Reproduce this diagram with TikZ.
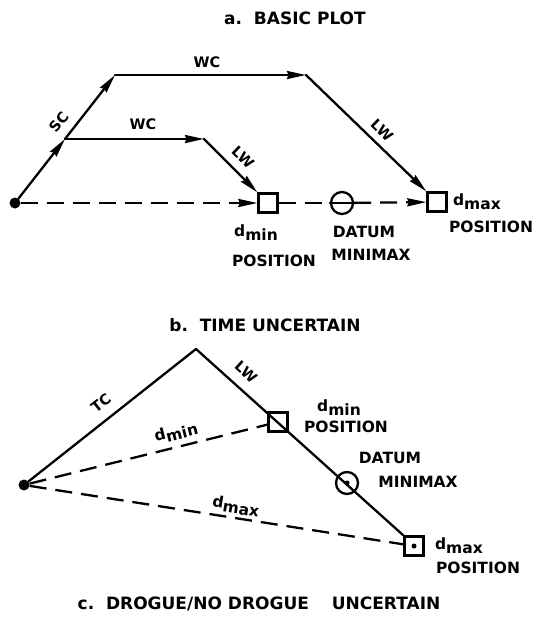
\documentclass[tikz,border=0pt]{standalone}
\usepackage{fontspec}
\setmainfont{DejaVu Sans}
\usetikzlibrary{arrows.meta}
\newcommand{\dsub}[1]{d\raisebox{-0.45ex}{#1}}
\begin{document}
\begin{tikzpicture}[x=1pt,y=-1pt,
  route/.style={line width=2.3pt,line cap=round,line join=round},
  tip/.style={-{Stealth[length=19pt,width=8pt,inset=1.5pt]}},
  dashline/.style={line width=2.3pt,dash pattern=on 17pt off 9pt},
  posbox/.style={draw,line width=2.3pt,minimum size=19pt,inner sep=0pt},
  datum/.style={draw,circle,line width=2.3pt,minimum size=22pt,inner sep=0pt},
  startdot/.style={fill,circle,minimum size=11pt,inner sep=0pt},
  centerdot/.style={fill,circle,minimum size=5pt,inner sep=0pt},
  title/.style={font=\bfseries\fontsize{17}{19}\selectfont},
  lab/.style={font=\bfseries\fontsize{15.5}{17}\selectfont},
  leg/.style={font=\bfseries\fontsize{14.5}{16}\selectfont}]
\useasboundingbox (0,0) rectangle (542,627);
\node[startdot] (a0) at (15,203) {};
\coordinate (abr) at (65,139);
\coordinate (atop) at (115,75);
\coordinate (aup) at (306,75);
\coordinate (alow) at (204,139);
\node[posbox,fill=white] (amin) at (268,203) {};
\node[datum] (adat) at (342,203) {};
\node[posbox,fill=white] (amax) at (437,202) {};
\draw[route,tip] (a0) -- (abr);
\draw[route,tip] (abr) -- (atop);
\draw[route,tip] (atop) -- (aup);
\draw[route,tip] (aup) -- (amax.north west);
\draw[route,tip] (abr) -- (alow);
\draw[route,tip] (alow) -- (amin.north west);
\draw[dashline,tip] (a0) -- (amin);
\draw[dashline] (amin) -- (adat);
\draw[dashline,tip] (adat) -- (amax);
\draw[route] (adat.west) -- (adat.east);
\node[leg,rotate=52] (lsc) at (59,122) {SC};
\node[leg] (lwc1) at (207,62) {WC};
\node[leg] (lwc2) at (143,124) {WC};
\node[leg,rotate=-44] (llw1) at (382,130) {LW};
\node[leg,rotate=-44] (llw2) at (243,157) {LW};
\node[lab] (lmin) at (256,233) {\dsub{min}};
\node[lab] (lpos1) at (274,261) {POSITION};
\node[lab] (ldat1) at (364,232) {DATUM};
\node[lab] (lmmx1) at (371,255) {MINIMAX};
\node[lab] (lmax) at (477,202) {\dsub{max}};
\node[lab] (lpos2) at (491,227) {POSITION};
\node[title] (ta) at (295,18) {a.\ \ BASIC PLOT};
\node[startdot] (b0) at (24,485) {};
\coordinate (bapex) at (196,349);
\node[posbox] (bmin) at (278,422) {};
\node[datum] (bdat) at (347,483) {};
\node[centerdot] (bdatc) at (347,483) {};
\node[posbox] (bmax) at (414,546) {};
\node[centerdot] (bmaxc) at (414,546) {};
\draw[route] (b0) -- (bapex) -- (bmax.north west);
\draw[dashline] (b0) -- (bmin);
\draw[dashline] (b0) -- (bmax);
\node[leg,rotate=38] (ltc) at (101,403) {TC};
\node[leg,rotate=-42] (llw3) at (246,372) {LW};
\node[lab,rotate=14] (lbmin) at (176,432) {\dsub{min}};
\node[lab,rotate=-9] (lbmax) at (236,506) {\dsub{max}};
\node[lab] (lbmin2) at (339,408) {\dsub{min}};
\node[lab] (lpos3) at (346,427) {POSITION};
\node[lab] (ldat2) at (390,458) {DATUM};
\node[lab] (lmmx2) at (418,482) {MINIMAX};
\node[lab] (lbmax2) at (459,546) {\dsub{max}};
\node[lab] (lpos4) at (478,568) {POSITION};
\node[title] (tb) at (265,325) {b.\ \ TIME UNCERTAIN};
\node[title] (tc) at (259,604) {c.\ \ DROGUE/NO DROGUE\quad\ UNCERTAIN};
\end{tikzpicture}
\end{document}
